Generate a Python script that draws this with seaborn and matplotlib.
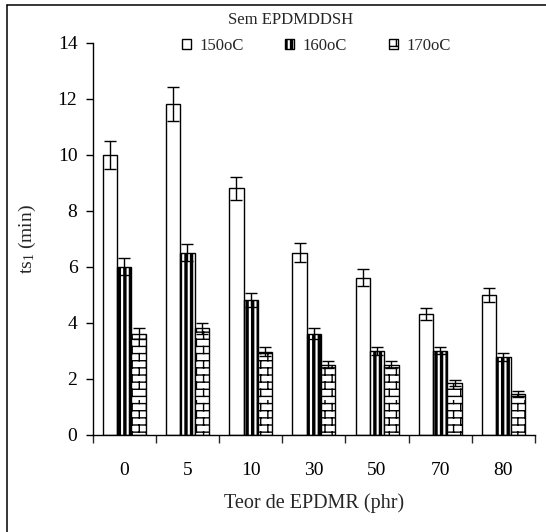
import numpy as np
import pandas as pd
import matplotlib
matplotlib.use("Agg")
import matplotlib.pyplot as plt
import seaborn as sns
from matplotlib import hatch as mhatch
from matplotlib.path import Path
from matplotlib.lines import Line2D
from matplotlib.patches import Patch

# ---------------- data ----------------
teor = ["0", "5", "10", "30", "50", "70", "80"]
temps = ["150oC", "160oC", "170oC"]
ts150 = [10.0, 11.8, 8.8, 6.5, 5.6, 4.3, 5.0]
ts160 = [6.0, 6.5, 4.8, 3.6, 3.0, 3.0, 2.77]
ts170 = [3.6, 3.8, 2.97, 2.5, 2.5, 1.85, 1.45]
err150 = [0.5, 0.6, 0.42, 0.35, 0.3, 0.22, 0.25]
err160 = [0.3, 0.3, 0.25, 0.2, 0.14, 0.12, 0.15]
err170 = [0.2, 0.2, 0.15, 0.12, 0.12, 0.1, 0.1]
yticks = [0, 2, 4, 6, 8, 10, 12, 14]

# ---------------- custom hatches ----------------
class BrickHatch(mhatch.HatchPatternBase):
    def __init__(self, hatch, density):
        self.on = hatch.count("O") > 0
        self.rows = 14
        self.cols = 7
        self.num_vertices = self.rows * (1 + self.cols) * 2 if self.on else 0

    def set_vertices_and_codes(self, vertices, codes):
        i = 0
        h = 1.0 / self.rows
        w = 1.0 / self.cols
        for r in range(self.rows):
            y0 = (r + 0.5) * h
            vertices[i] = (0.0, y0)
            vertices[i + 1] = (1.0, y0)
            i += 2
            off = w / 2 if r % 2 else 0.0
            for c in range(self.cols):
                x = (c + 0.25) * w + off
                vertices[i] = (x, y0)
                vertices[i + 1] = (x, y0 + h)
                i += 2
        codes[0::2] = Path.MOVETO
        codes[1::2] = Path.LINETO


class StripeHatch(mhatch.HatchPatternBase):
    def __init__(self, hatch, density):
        self.on = hatch.count("o") > 0
        self.n = 18
        self.k = 3
        self.num_vertices = self.n * self.k * 2 if self.on else 0

    def set_vertices_and_codes(self, vertices, codes):
        i = 0
        for s in range(self.n):
            for j in range(self.k):
                x = (s + 0.3) / self.n + j * 0.01
                vertices[i] = (x, 0.0)
                vertices[i + 1] = (x, 1.0)
                i += 2
        codes[0::2] = Path.MOVETO
        codes[1::2] = Path.LINETO


hatches = ["", "|||", "+"]
try:
    new_types = []
    for t in mhatch._hatch_types:
        if t is mhatch.LargeCircles:
            new_types.append(BrickHatch)
        elif t is mhatch.SmallCircles:
            new_types.append(StripeHatch)
        else:
            new_types.append(t)
    mhatch._hatch_types[:] = new_types
    hatches = ["", "o", "O"]
except Exception:
    pass

# ---------------- style ----------------
sns.set_style("ticks")
plt.rcParams["font.family"] = ["Liberation Serif", "DejaVu Serif"]
plt.rcParams["mathtext.fontset"] = "custom"
plt.rcParams["mathtext.rm"] = "Liberation Serif"
plt.rcParams["mathtext.it"] = "Liberation Serif:italic"
plt.rcParams["hatch.linewidth"] = 1.0
plt.rcParams["hatch.color"] = "black"

df = pd.DataFrame({
    "Teor": teor * 3,
    "Temp": np.repeat(temps, len(teor)),
    "ts1": ts150 + ts160 + ts170,
})

W, H = 546, 532
fig = plt.figure(figsize=(W / 100, H / 100), dpi=100)
ax_l, ax_r, ax_t, ax_b = 92.7, 535.0, 42.7, 434.7
ax = fig.add_axes([ax_l / W, 1 - ax_b / H, (ax_r - ax_l) / W, (ax_b - ax_t) / H])

sns.barplot(data=df, x="Teor", y="ts1", hue="Temp", order=teor, hue_order=temps,
            palette=["white"] * 3, edgecolor="black", linewidth=1.0, width=0.68,
            errorbar=None, legend=False, ax=ax)

errs = [err150, err160, err170]
for cont, hatch, err in zip(ax.containers, hatches, errs):
    xs, ys = [], []
    for p in cont.patches:
        p.set_hatch(hatch)
        p.set_facecolor("white")
        p.set_edgecolor("black")
        xs.append(p.get_x() + p.get_width() / 2)
        ys.append(p.get_height())
    ax.errorbar(xs, ys, yerr=err, fmt="none", ecolor="black", elinewidth=1.0,
                capsize=4.3, capthick=1.0, zorder=5)

ax.set_ylim(0, 14)
ax.set_xlim(-0.5, len(teor) - 0.5)
ax.set_yticks(yticks)
ax.set_xticks(range(len(teor)))
ax.set_xticklabels(teor)
ax.set_xticks(np.arange(-0.5, len(teor), 1.0), minor=True)

for s in ["top", "right"]:
    ax.spines[s].set_visible(False)
for s in ["left", "bottom"]:
    ax.spines[s].set_linewidth(1.0)
    ax.spines[s].set_color("black")

ax.tick_params(axis="y", direction="out", length=5, width=1.0, pad=6,
               labelsize=14, colors="black")
ax.tick_params(axis="x", which="major", length=0, pad=20, labelsize=14, colors="black")
ax.tick_params(axis="x", which="minor", direction="out", length=5.5, width=1.0)

ax.set_xlabel("Teor de EPDMR (phr)", fontsize=14.5, labelpad=10)
ax.set_ylabel(r"ts$_{\mathrm{1}}$ (min)", fontsize=14, labelpad=14)

# legend + title above
handles = [Patch(facecolor="white", edgecolor="black", hatch=h, label=t, linewidth=1.0)
           for h, t in zip(hatches, temps)]
fig.legend(handles=handles, loc="center", bbox_to_anchor=(316 / W, 1 - 46 / H),
           ncol=3, frameon=False, fontsize=12, handlelength=0.55, handleheight=0.55,
           handletextpad=0.5, columnspacing=2.5, borderpad=0.2)
fig.text(291 / W, 1 - 20 / H, "Sem EPDMDDSH", ha="center", va="center", fontsize=12)

# outer frame
fig.add_artist(Line2D([7 / W, 7 / W], [0, 1 - 4.5 / H], transform=fig.transFigure,
                      color="black", lw=1.1))
fig.add_artist(Line2D([7 / W, 1], [1 - 4.5 / H, 1 - 4.5 / H], transform=fig.transFigure,
                      color="black", lw=1.1))

fig.savefig("out.png", dpi=100)
